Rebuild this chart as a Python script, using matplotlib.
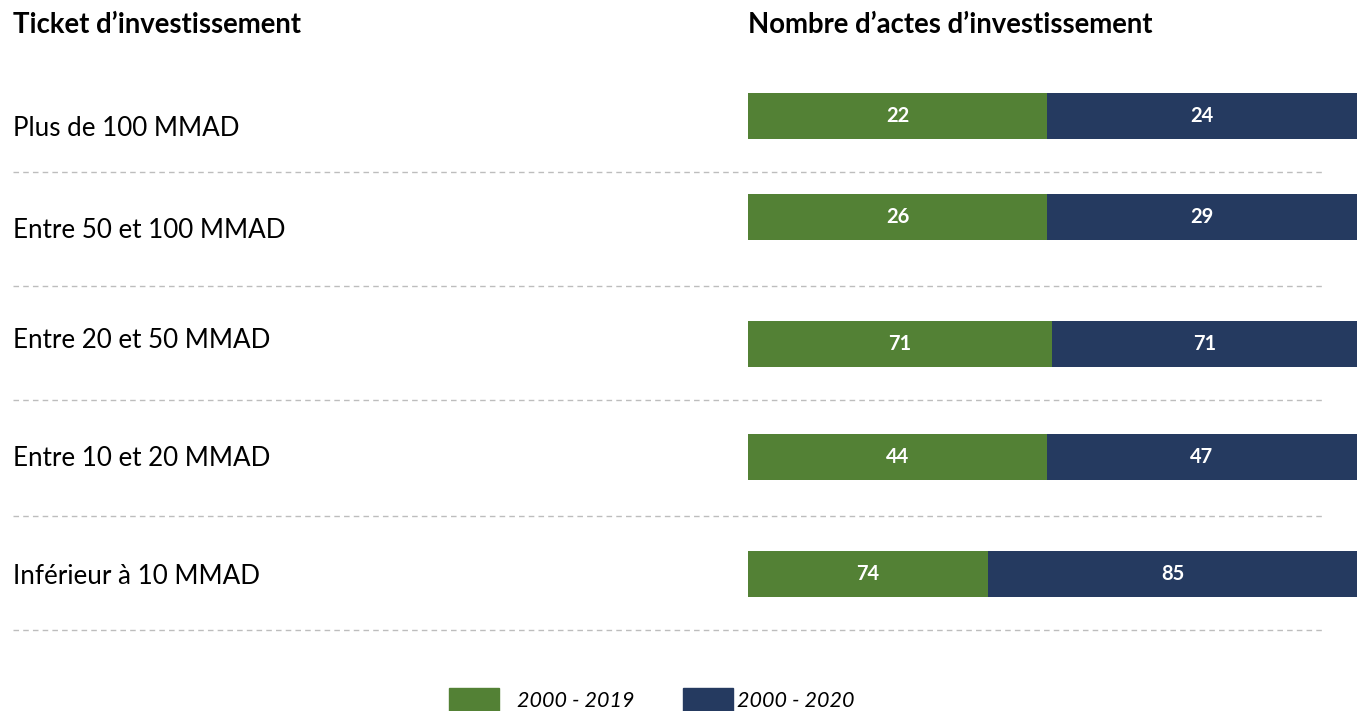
import matplotlib.pyplot as plt
from matplotlib.patches import Rectangle

plt.rcParams['font.family'] = ['Lato', 'DejaVu Sans']

# data
tickets = ['Plus de 100 MMAD', 'Entre 50 et 100 MMAD', 'Entre 20 et 50 MMAD',
           'Entre 10 et 20 MMAD', 'Inférieur à 10 MMAD']
actes_2019 = [22, 26, 71, 44, 74]
actes_2020 = [24, 29, 71, 47, 85]
# share of the green segment as drawn in the source (not proportional)
share_2019 = [0.491, 0.491, 0.499, 0.491, 0.394]
series = ['2000 - 2019', '2000 - 2020']

green = '#538135'
navy = '#253A60'
grid = '#BDBDBD'

W, H = 1357, 711
fig = plt.figure(figsize=(W / 100, H / 100), dpi=100)

# background axes in pixel units for texts and separators
bg = fig.add_axes([0, 0, 1, 1])
bg.set_xlim(0, W)
bg.set_ylim(H, 0)
bg.axis('off')

# bar axes: x in shares, y in pixel rows
ax = fig.add_axes([748 / W, 0, 1 - 748 / W, 1])
ax.set_xlim(0, 1)
ax.set_ylim(H, 0)
ax.axis('off')

bar_y = [116, 217, 344, 457, 574]
label_y = [128, 231, 340, 459, 577]
sep_y = [172, 286, 400, 516, 630]
bar_h = 46

ax.barh(bar_y, share_2019, height=bar_h, color=green)
ax.barh(bar_y, [1 - s for s in share_2019], left=share_2019,
        height=bar_h, color=navy)
for i in range(len(tickets)):
    ax.text(share_2019[i] / 2, bar_y[i], str(actes_2019[i]), color='white',
            fontsize=14.5, fontweight='bold', ha='center', va='center')
    ax.text(share_2019[i] + (1 - share_2019[i]) / 2, bar_y[i], str(actes_2020[i]),
            color='white', fontsize=14.5, fontweight='bold', ha='center', va='center')
    bg.text(13, label_y[i], tickets[i], fontsize=18.7, ha='left', va='center')
    bg.plot([13, 1325], [sep_y[i], sep_y[i]], color=grid, lw=1, ls=(0, (4, 3)))

bg.text(13, 25, 'Ticket d’investissement', fontsize=19.8, fontweight='bold',
        ha='left', va='center')
bg.text(748, 25, 'Nombre d’actes d’investissement', fontsize=19.8, fontweight='bold',
        ha='left', va='center')

# legend
for x0, tx, col, name in [(449, 517, green, series[0]), (683, 737, navy, series[1])]:
    bg.add_patch(Rectangle((x0, 688), 50, 30, color=col, clip_on=False))
    bg.text(tx, 701, name, fontsize=15.5, style='italic', ha='left', va='center')

fig.savefig('out.png', dpi=100)
